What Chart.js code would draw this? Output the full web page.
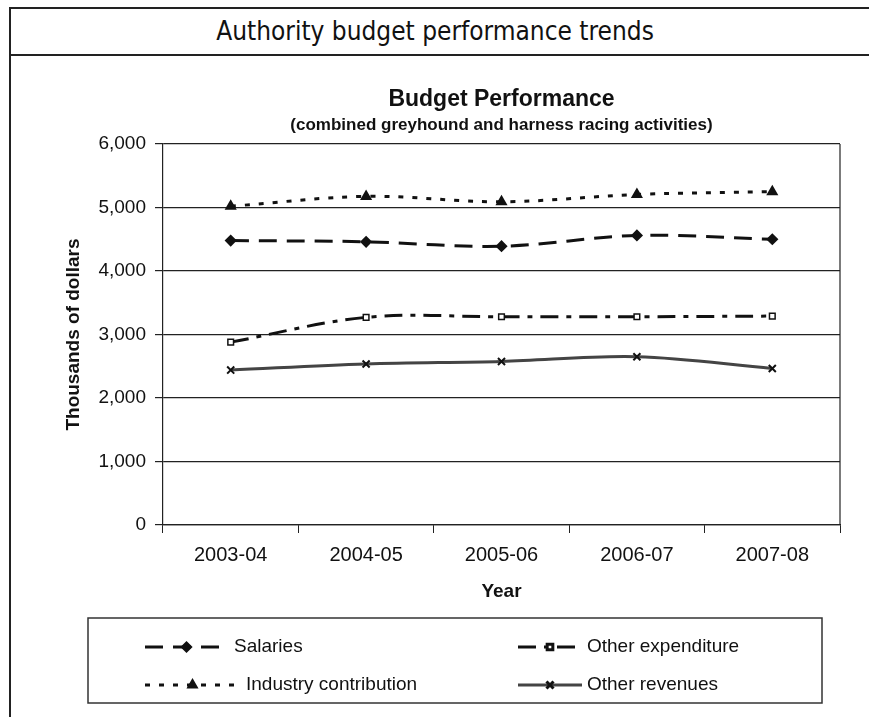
<!DOCTYPE html>
<html>
<head>
<meta charset="utf-8">
<script src="https://cdn.jsdelivr.net/npm/chart.js@4"></script>
<style>
  html, body { margin: 0; padding: 0; background: #fff; }
  body { width: 869px; height: 717px; position: relative; overflow: hidden; }
  #frame {
    position: absolute; left: 9px; top: 7px; width: 900px; height: 760px;
    border-left: 2px solid #222; border-top: 2px solid #222;
  }
  #header {
    position: absolute; left: 9px; top: 7px; width: 900px; height: 47px;
    border-bottom: 2px solid #222;
  }
  #header span {
    position: absolute; left: 0; width: 852px; top: 9px; text-align: center;
    font-family: "DejaVu Sans Condensed", "DejaVu Sans", sans-serif; font-size: 26px; color: #111;
  }
  #wrap { position: absolute; left: 0; top: 0; width: 869px; height: 717px; }
</style>
</head>
<body>
<div id="frame"></div>
<div id="header"><span>Authority budget performance trends</span></div>
<div id="wrap"><canvas id="budget-chart"></canvas></div>
<script>
const years = ["2003-04", "2004-05", "2005-06", "2006-07", "2007-08"];
const salaries = [4480, 4460, 4390, 4560, 4500];
const otherExpenditure = [2880, 3270, 3280, 3280, 3290];
const industryContribution = [5020, 5175, 5090, 5205, 5250];
const otherRevenues = [2440, 2535, 2575, 2650, 2465];

Chart.defaults.font.family = "'Liberation Sans', Arial, sans-serif";
Chart.defaults.color = "#111";

// legend drawn like the excel one: 2 x 2 grid in a box under the axis
const boxLegend = {
  id: "boxLegend",
  afterDraw(chart) {
    const ctx = chart.ctx;
    ctx.save();
    ctx.strokeStyle = "#333";
    ctx.lineWidth = 1.5;
    ctx.strokeRect(88, 618, 734, 85);

    const spots = [
      { x1: 145, x2: 228, tx: 234, y: 647 },
      { x1: 518, x2: 582, tx: 587, y: 647 },
      { x1: 145, x2: 240, tx: 246, y: 685 },
      { x1: 518, x2: 582, tx: 587, y: 685 },
    ];
    chart.data.datasets.forEach((ds, i) => {
      const s = spots[i];
      ctx.strokeStyle = ds.borderColor;
      ctx.lineWidth = ds.borderWidth;
      ctx.setLineDash(ds.borderDash || []);
      ctx.beginPath();
      ctx.moveTo(s.x1, s.y);
      ctx.lineTo(s.x2, s.y);
      ctx.stroke();
      ctx.setLineDash([]);
      ctx.fillStyle = ds.pointBackgroundColor;
      ctx.strokeStyle = ds.pointBorderColor;
      Chart.helpers.drawPoint(ctx, {
        pointStyle: ds.pointStyle,
        radius: ds.pointRadius,
        borderWidth: ds.pointBorderWidth || 1,
      }, (s.x1 + s.x2) / 2, s.y);
      ctx.fillStyle = "#111";
      ctx.font = "19px 'Liberation Sans', Arial, sans-serif";
      ctx.textBaseline = "middle";
      ctx.fillText(ds.label, s.tx, s.y);
    });

    // right side of the plot frame
    const a = chart.chartArea;
    ctx.strokeStyle = "#222";
    ctx.lineWidth = 1.2;
    ctx.beginPath();
    ctx.moveTo(a.right, a.top);
    ctx.lineTo(a.right, a.bottom);
    ctx.stroke();
    ctx.restore();
  },
};

new Chart(document.getElementById("budget-chart"), {
  type: "line",
  data: {
    labels: years,
    datasets: [
      {
        label: "Salaries",
        data: salaries,
        borderColor: "#111",
        backgroundColor: "#111",
        borderWidth: 3,
        borderDash: [18, 10],
        pointStyle: "rectRot",
        pointRadius: 4,
        pointBorderColor: "#111",
        pointBackgroundColor: "#111",
      },
      {
        label: "Other expenditure",
        data: otherExpenditure,
        borderColor: "#111",
        backgroundColor: "#fff",
        borderWidth: 3,
        borderDash: [18, 8, 5, 8],
        pointStyle: "rect",
        pointRadius: 4,
        pointBorderWidth: 1.5,
        pointBorderColor: "#111",
        pointBackgroundColor: "#fff",
      },
      {
        label: "Industry contribution",
        data: industryContribution,
        borderColor: "#111",
        backgroundColor: "#111",
        borderWidth: 3,
        borderDash: [5, 9],
        pointStyle: "triangle",
        pointRadius: 4,
        pointBorderColor: "#111",
        pointBackgroundColor: "#111",
      },
      {
        label: "Other revenues",
        data: otherRevenues,
        borderColor: "#444",
        backgroundColor: "#111",
        borderWidth: 3,
        pointStyle: "crossRot",
        pointRadius: 5,
        pointBorderWidth: 2,
        pointBorderColor: "#111",
        pointBackgroundColor: "#111",
      },
    ],
  },
  options: {
    responsive: true,
    maintainAspectRatio: false,
    animation: false,
    elements: { line: { tension: 0.35 } },
    layout: { padding: { left: 50, right: 29, top: 86, bottom: 114 } },
    plugins: {
      legend: { display: false },
      tooltip: { enabled: false },
      title: {
        display: true,
        fullSize: false,
        text: "Budget Performance",
        color: "#111",
        font: { size: 23, weight: "bold" },
        padding: { top: 0, bottom: 2 },
      },
      subtitle: {
        display: true,
        fullSize: false,
        text: "(combined greyhound and harness racing activities)",
        color: "#111",
        font: { size: 17, weight: "bold" },
        padding: { top: 0, bottom: 8 },
      },
    },
    scales: {
      x: {
        offset: true,
        grid: { offset: true, drawOnChartArea: false, tickLength: 8, color: "#222" },
        border: { color: "#222", width: 1.2 },
        ticks: { font: { size: 20 }, padding: 10, maxRotation: 0, color: "#111" },
        title: { display: true, text: "Year", font: { size: 19, weight: "bold" }, padding: { top: 0, bottom: 0 }, color: "#111" },
        afterFit(scale) { scale.height = 78; },
      },
      y: {
        min: 0,
        max: 6000,
        ticks: {
          stepSize: 1000,
          font: { size: 19 },
          padding: 9,
          color: "#111",
          callback: (v) => v.toLocaleString("en-US"),
        },
        grid: { color: "#222", lineWidth: 1.2, tickLength: 8 },
        border: { color: "#222", width: 1.2 },
        title: { display: true, text: "Thousands of dollars", font: { size: 19, weight: "bold" }, padding: { top: 12, bottom: 0 }, color: "#111" },
        afterFit(scale) { scale.width = 113; },
      },
    },
  },
  plugins: [boxLegend],
});
</script>
</body>
</html>
